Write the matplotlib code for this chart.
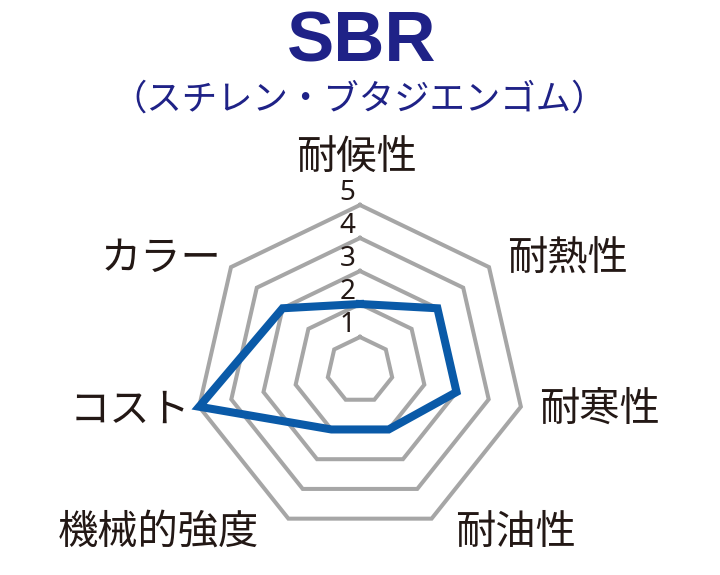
import numpy as np
import matplotlib
matplotlib.use('Agg')
import matplotlib.pyplot as plt

plt.rcParams['font.family'] = ['Noto Sans CJK JP', 'DejaVu Sans']

# Data.
categories = ['耐候性', '耐熱性', '耐寒性', '耐油性', '機械的強度', 'コスト', 'カラー']
values = [2, 3, 3, 2, 2, 5, 3]
levels = [1, 2, 3, 4, 5]
title = 'SBR'
subtitle = '（スチレン・ブタジエンゴム）'

# Label centres in data units (layout only).
label_pos = [(-0.12, 6.45), (6.27, 3.39), (7.24, -1.18), (4.70, -4.91),
             (-6.12, -4.91), (-6.97, -1.21), (-6.03, 3.39)]

W, H = 720, 575
px_per_unit = 33.0
cx, cy = 360, 370

fig = plt.figure(figsize=(W / 100, H / 100), dpi=100)
ax = fig.add_axes([0, 0, 1, 1])
ax.set_xlim(-cx / px_per_unit, (W - cx) / px_per_unit)
ax.set_ylim(-(H - cy) / px_per_unit, cy / px_per_unit)
ax.axis('off')

n = len(categories)
# top first, clockwise
theta = np.pi / 2 - 2 * np.pi * np.arange(n) / n
theta_c = np.append(theta, theta[0])

grid_color = '#a6a6a6'
for lv in levels:
    ax.plot(lv * np.cos(theta_c), lv * np.sin(theta_c), color=grid_color,
            lw=2.9, solid_joinstyle='miter', zorder=1)
    ax.text(-0.38, lv + 0.36, str(lv), ha='center', va='center',
            fontsize=20, color='#231815', fontweight='light',
            family=['Noto Sans', 'DejaVu Sans'], zorder=3)

v = np.append(values, values[0])
ax.plot(v * np.cos(theta_c), v * np.sin(theta_c), color='#0a5aa8',
        lw=5.8, solid_joinstyle='miter', zorder=2)

for name, (x, y) in zip(categories, label_pos):
    ax.text(x, y, name, ha='center', va='center', fontsize=29,
            color='#231815')

navy = '#1f2287'
fig.text(362 / W, 1 - 43 / H, title, ha='center', va='center',
         fontsize=51, fontweight='bold', color=navy,
         family=['Liberation Sans', 'DejaVu Sans'])
fig.text(359 / W, 1 - 100 / H, subtitle, ha='center', va='center',
         fontsize=25.5, color=navy)

fig.savefig('out.png', dpi=100)
